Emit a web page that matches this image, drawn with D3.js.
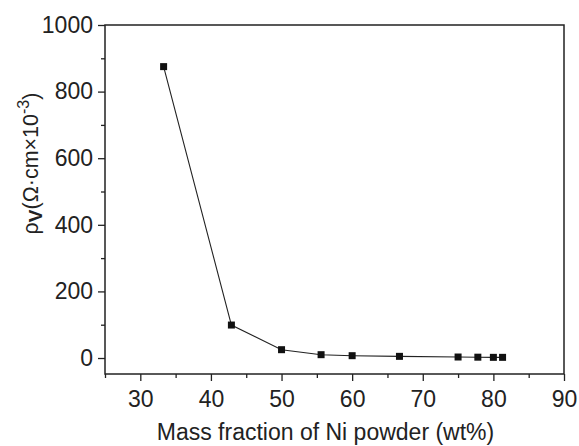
<!DOCTYPE html>
<head>
  <meta charset="utf-8">
  <script src="https://d3js.org/d3.v7.min.js"></script>
  <style>
    body { margin: 0; background: #fff; }
    svg { width: 579px; height: 446px; font-family: "Liberation Sans", Arial, sans-serif; }
  </style>
</head>
<body>
  <svg></svg>
  <script>
    // mass fraction of Ni powder (wt%) and volume resistivity (Ω·cm×10^-3)
    var massFraction = [33.3, 42.9, 50, 55.6, 60, 66.7, 75, 77.8, 80, 81.3];
    var resistivity = [875, 99, 25, 10, 7, 5, 3, 2.5, 2, 2];
    var xTicks = [30, 40, 50, 60, 70, 80, 90];
    var yTicks = [0, 200, 400, 600, 800, 1000];

    var margin = {left: 105, top: 25, right: 15, bottom: 72};
    var width = 579 - margin.left - margin.right;
    var height = 446 - margin.top - margin.bottom;
    var ink = '#222';
    var fs = '23px';

    var svg = d3.select('svg')
      .append('g')
      .attr('transform', 'translate(' + [margin.left, margin.top] + ')');

    var x = d3.scaleLinear().domain([25, 90]).range([0, width]);
    var y = d3.scaleLinear().domain([-48, 1000]).range([height, 0]);

    // minor ticks
    var xAxisMinor = d3.axisBottom(x).tickValues(d3.range(25, 91, 10)).tickSize(4).tickFormat('');
    var yAxisMinor = d3.axisLeft(y).tickValues(d3.range(100, 1000, 200)).tickSize(4).tickFormat('');
    svg.append('g').attr('transform', 'translate(0,' + height + ')').call(xAxisMinor);
    svg.append('g').call(yAxisMinor);

    svg.append('g')
      .attr('transform', 'translate(0,' + height + ')')
      .call(d3.axisBottom(x).tickValues(xTicks).tickSize(7).tickPadding(10).tickFormat(d3.format('d')));
    svg.append('g')
      .call(d3.axisLeft(y).tickValues(yTicks).tickSize(7).tickPadding(5).tickFormat(d3.format('d')));

    svg.selectAll('.domain').remove();
    svg.selectAll('.tick line').attr('stroke', ink).attr('stroke-width', 1.3);
    svg.selectAll('.tick text')
      .attr('fill', ink)
      .style('font-size', fs)
      .style('font-family', '"Liberation Sans", Arial, sans-serif');

    // frame
    svg.append('rect')
      .attr('width', width).attr('height', height)
      .attr('fill', 'none').attr('stroke', ink).attr('stroke-width', 1.5);

    var pts = massFraction.map(function(d, i) { return [d, resistivity[i]]; });

    svg.append('path')
      .datum(pts)
      .attr('fill', 'none')
      .attr('stroke', ink)
      .attr('stroke-width', 1.1)
      .attr('d', d3.line().x(function(d) { return x(d[0]); }).y(function(d) { return y(d[1]); }));

    svg.selectAll('rect.pt')
      .data(pts).enter().append('rect')
      .attr('class', 'pt')
      .attr('x', function(d) { return x(d[0]) - 3.5; })
      .attr('y', function(d) { return y(d[1]) - 3.5; })
      .attr('width', 7).attr('height', 7)
      .attr('fill', '#111');

    // axis titles
    svg.append('text')
      .attr('x', width / 2 - 9)
      .attr('y', height + 66)
      .attr('text-anchor', 'middle')
      .attr('fill', ink)
      .style('font-size', fs)
      .text('Mass fraction of Ni powder (wt%)');

    var yt = svg.append('text')
      .attr('transform', 'translate(-67,' + (height / 2 - 36) + ')rotate(-90)')
      .attr('text-anchor', 'middle')
      .attr('fill', ink)
      .style('font-size', '21.5px');
    yt.append('tspan').text('ρ');
    yt.append('tspan').attr('dy', 4).style('font-weight', 'bold').style('font-size', '19px').text('V');
    yt.append('tspan').attr('dy', -4).text('(Ω·cm×10');
    yt.append('tspan').attr('dy', -9).style('font-size', '16px').text('-3');
    yt.append('tspan').attr('dy', 9).text(')');
  </script>
</body>
